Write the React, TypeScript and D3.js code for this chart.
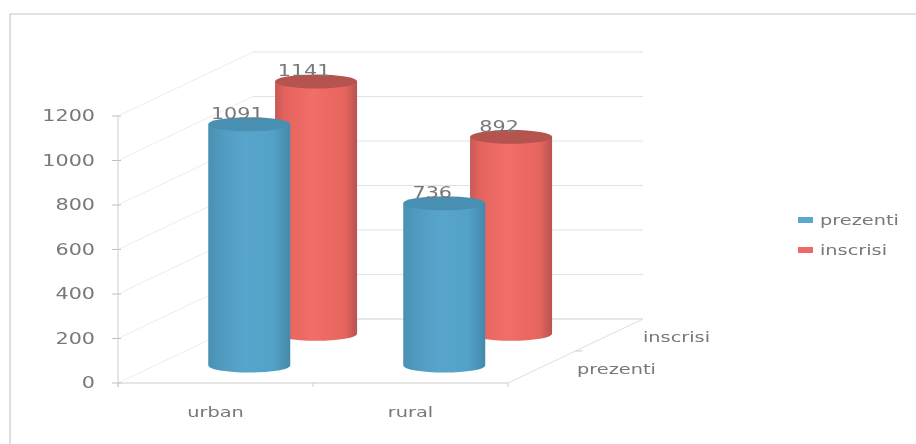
import React, { useEffect, useRef } from 'react'
import * as d3 from 'd3'

const categories = ['urban', 'rural']
const series = ['prezenti', 'inscrisi']
const prezenti = [1091, 736]
const inscrisi = [1141, 892]
const ticks = [0, 200, 400, 600, 800, 1000, 1200]

const width = 916
const height = 444

const App: React.FC = () => {
    const ref = useRef<SVGSVGElement | null>(null)

    useEffect(() => {
        const svg = d3.select(ref.current)
        svg.selectAll('*').remove()

        const font = 'DejaVu Sans, sans-serif'
        const textColor = '#787878'

        const x = d3.scaleBand().domain(categories).range([118, 508])
        const y = d3.scaleLinear().domain([0, 1200]).range([383, 116])
        // depth runs from the front floor edge to the back wall
        const depthX = d3.scaleLinear().domain([0, 1]).range([0, 135])
        const depthY = d3.scaleLinear().domain([0, 1]).range([0, -64])
        const z = d3.scalePoint().domain(series).range([0.25, 0.745])

        const defs = svg.append('defs')
        defs.append('filter').attr('id', 'soft').append('feGaussianBlur').attr('stdDeviation', 0.75)

        const gradient = (id: string, stops: [number, string][]) => {
            defs.append('linearGradient').attr('id', id)
                .selectAll('stop').data(stops).join('stop')
                .attr('offset', d => d[0])
                .attr('stop-color', d => d[1])
        }
        gradient('blue', [[0, '#4a90b2'], [0.12, '#4f99bd'], [0.45, '#58a5cc'], [0.8, '#53a1c7'], [1, '#4389ab']])
        gradient('red', [[0, '#c85855'], [0.12, '#e5645f'], [0.45, '#f26e68'], [0.85, '#e6655f'], [1, '#b85250']])

        // the source is a stretched scan, so all text runs about 1.38x wide
        const stretch = (sel: any, factor = 1.38) => {
            sel.each(function (this: SVGTextElement) {
                const len = this.getComputedTextLength()
                d3.select(this)
                    .attr('textLength', len * factor)
                    .attr('lengthAdjust', 'spacingAndGlyphs')
            })
        }

        const root = svg.append('g').attr('filter', 'url(#soft)')

        // frame: only top and left edges are on the page
        root.append('path')
            .attr('d', d3.line()([[10, 470], [10, 14], [930, 14]]))
            .attr('fill', 'none').attr('stroke', '#c8c8c8').attr('stroke-width', 1.2)

        const grid = root.append('g').attr('fill', 'none')
        const x0 = x.range()[0]
        const x1 = x.range()[1]

        ticks.forEach(t => {
            // left wall diagonal
            grid.append('line')
                .attr('x1', x0).attr('y1', y(t))
                .attr('x2', x0 + depthX(1)).attr('y2', y(t) + depthY(1))
                .attr('stroke', '#ececec')
            // back wall line
            grid.append('line')
                .attr('x1', x0 + depthX(1)).attr('y1', y(t) + depthY(1))
                .attr('x2', x1 + depthX(1)).attr('y2', y(t) + depthY(1))
                .attr('stroke', t === 0 ? '#cfcfcf' : '#e2e2e2')
            // value axis tick
            grid.append('line')
                .attr('x1', x0 - 6).attr('x2', x0 + 3)
                .attr('y1', y(t)).attr('y2', y(t))
                .attr('stroke', '#c0c0c0')
        })

        // value axis, category axis and depth axis
        const axes = root.append('g').attr('stroke', '#cdcdcd').attr('fill', 'none')
        axes.append('line').attr('x1', x0).attr('x2', x0).attr('y1', y(0) + 4).attr('y2', y(1200))
        axes.append('line').attr('x1', x0).attr('x2', x1).attr('y1', y(0)).attr('y2', y(0))
        axes.append('line')
            .attr('x1', x1).attr('y1', y(0))
            .attr('x2', x1 + depthX(1)).attr('y2', y(0) + depthY(1))
            .attr('stroke', '#dedede')
        const xEdges = [x0, (x0 + x1) / 2, x1]
        xEdges.forEach(v => {
            axes.append('line').attr('x1', v).attr('x2', v).attr('y1', y(0)).attr('y2', y(0) + 4)
        })
        // tick between the two depth rows
        axes.append('line')
            .attr('x1', x1 + depthX(0.5)).attr('y1', y(0) + depthY(0.5))
            .attr('x2', x1 + depthX(0.5) + 7).attr('y2', y(0) + depthY(0.5))

        root.append('g').selectAll('text').data(ticks).join('text')
            .attr('x', 95)
            .attr('y', d => y(d) + 5)
            .attr('text-anchor', 'end')
            .attr('font-family', font).attr('font-size', 15).attr('fill', textColor)
            .text(d => d)
            .call(stretch)

        root.append('g').selectAll('text').data(categories).join('text')
            .attr('x', d => (x(d) as number) + x.bandwidth() / 2)
            .attr('y', 417)
            .attr('text-anchor', 'middle')
            .attr('font-family', font).attr('font-size', 14).attr('fill', textColor)
            .text(d => d)
            .call(stretch)

        root.append('g').selectAll('text').data(series).join('text')
            .attr('x', d => (d === 'prezenti' ? 577 : 643))
            .attr('y', d => (d === 'prezenti' ? 374 : 342))
            .attr('font-family', font).attr('font-size', 14).attr('fill', textColor)
            .text(d => d)
            .call(stretch)

        // cylinders, back row first so the front row covers it
        const rx = 41
        const ry = 7
        const rows = [
            { name: 'inscrisi', values: inscrisi, fill: 'url(#red)', top: '#b55250' },
            { name: 'prezenti', values: prezenti, fill: 'url(#blue)', top: '#488fb1' },
        ]
        rows.forEach(row => {
            const dx = depthX(z(row.name) as number)
            const dy = depthY(z(row.name) as number)
            categories.forEach((c, i) => {
                const v = row.values[i]
                const cx = (x(c) as number) + x.bandwidth() / 2 + dx
                const yBottom = y(0) + dy - 1.5
                const yTop = y(v) + dy
                const g = root.append('g')
                g.append('path')
                    .attr('d', `M${cx - rx},${yTop}V${yBottom}A${rx},${ry} 0 0 0 ${cx + rx},${yBottom}V${yTop}Z`)
                    .attr('fill', row.fill)
                g.append('ellipse')
                    .attr('cx', cx).attr('cy', yTop).attr('rx', rx).attr('ry', ry)
                    .attr('fill', row.top)
                g.append('text')
                    .attr('x', cx - 12)
                    .attr('y', yTop - 5)
                    .attr('text-anchor', 'middle')
                    .attr('font-family', font).attr('font-size', 15).attr('fill', textColor)
                    .text(v)
                    .call(stretch)
            })
        })

        // legend
        const legendY = d3.scalePoint().domain(series).range([220, 250])
        const legendColor = d3.scaleOrdinal<string>().domain(series).range(['#5aa8d0', '#ee6b66'])
        const legend = root.append('g').selectAll('g').data(series).join('g')
            .attr('transform', d => `translate(798,${legendY(d)})`)
        legend.append('rect')
            .attr('x', 0).attr('y', -3).attr('width', 15).attr('height', 6)
            .attr('fill', d => legendColor(d))
        legend.append('text')
            .attr('x', 22).attr('y', 5)
            .attr('font-family', font).attr('font-size', 14).attr('fill', textColor)
            .text(d => d)
            .call(stretch)
    }, [])

    return (
        <svg
            ref={ref}
            width={width}
            height={height}
            style={{ position: 'absolute', left: 0, top: 0, background: '#fff' }}
        ></svg>
    )
}

export default App
